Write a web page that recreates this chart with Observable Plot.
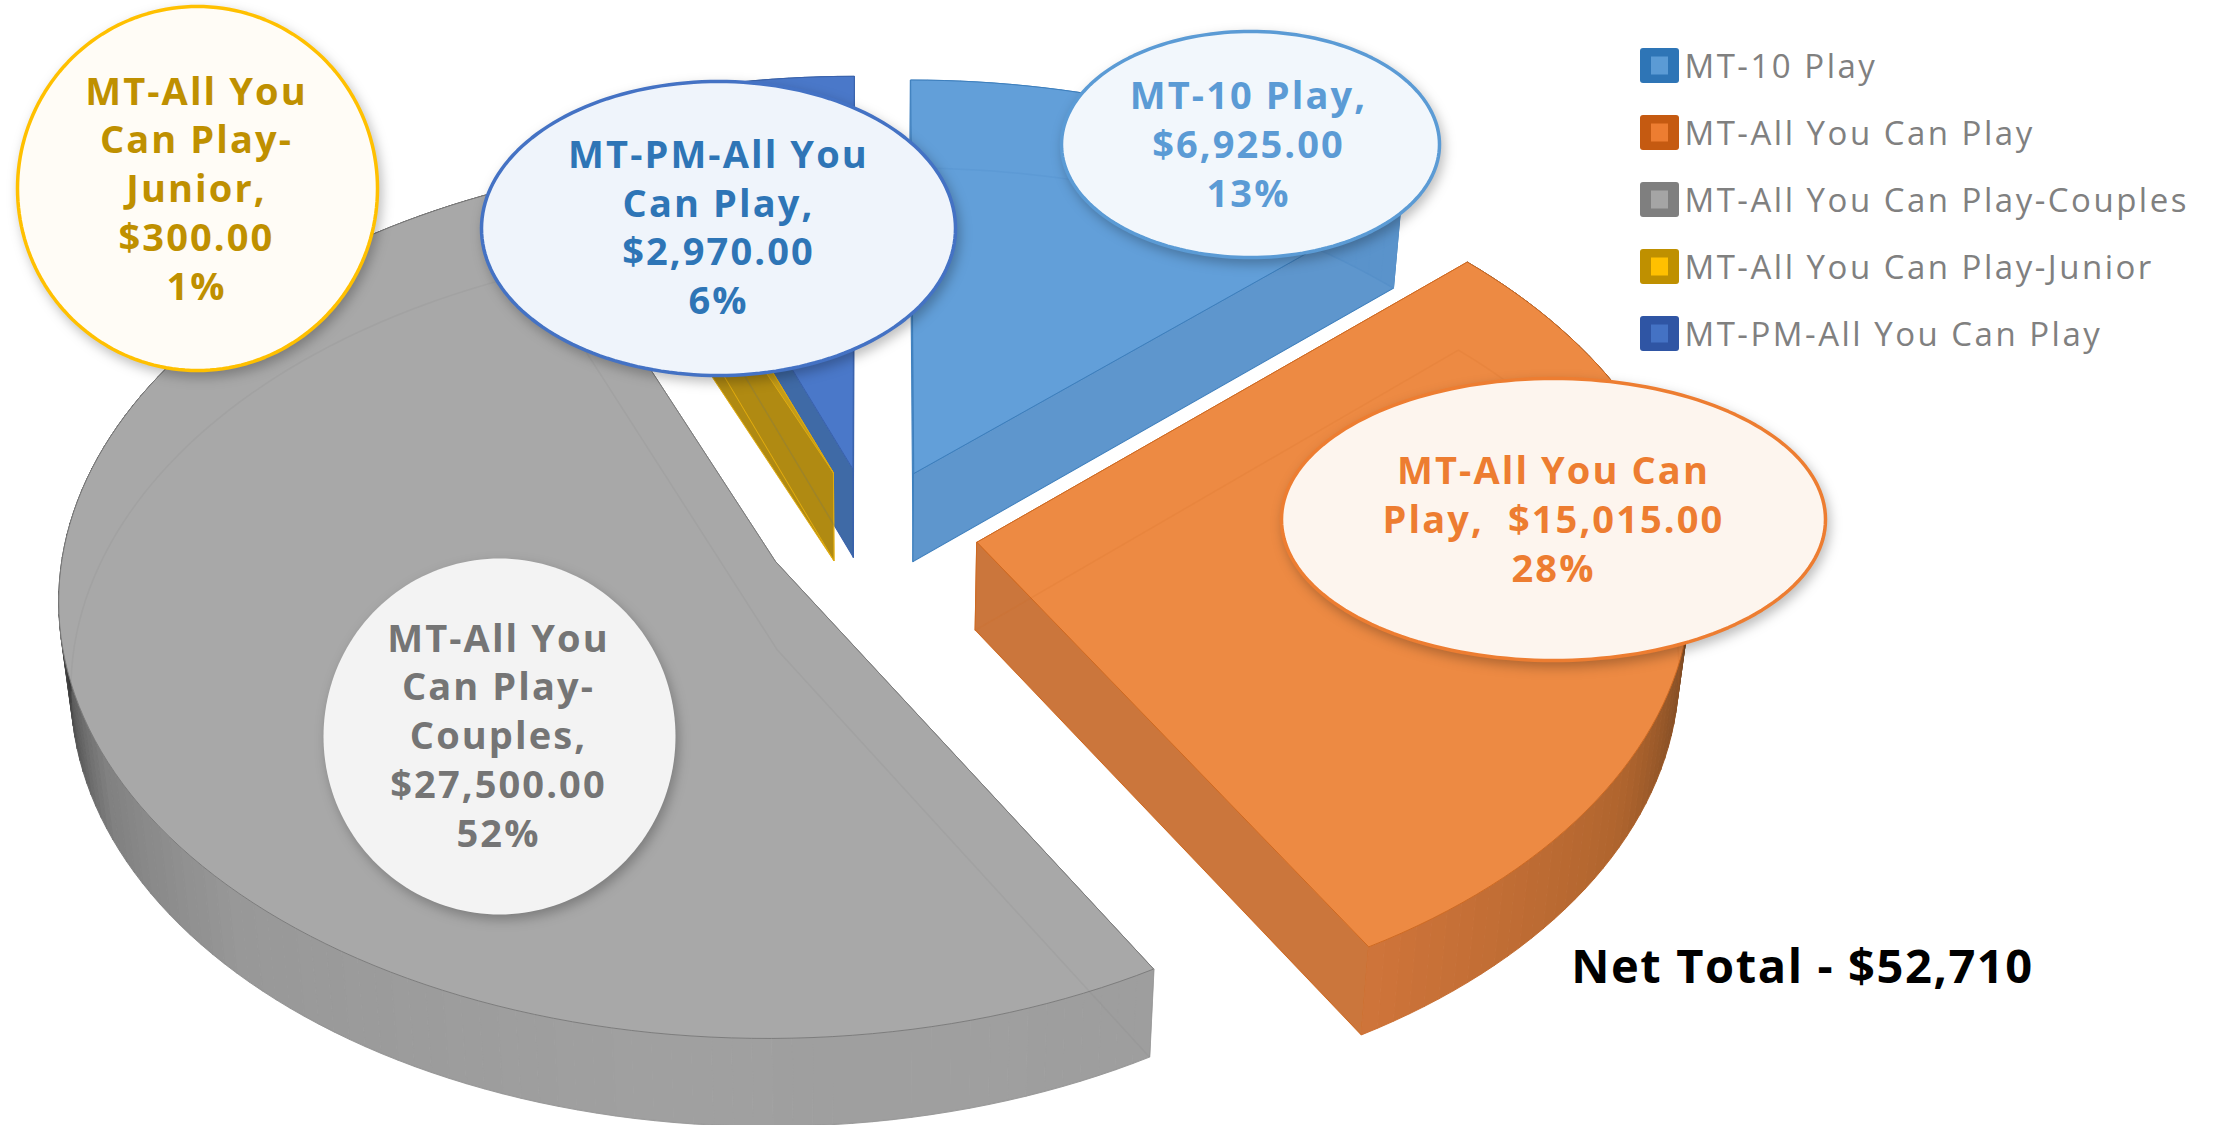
<!DOCTYPE html>
<html>
<head>
<meta charset="utf-8">
<script src="https://cdn.jsdelivr.net/npm/d3@7"></script>
<script src="https://cdn.jsdelivr.net/npm/@observablehq/plot@0.6"></script>
<style>
  html, body { margin: 0; padding: 0; background: #ffffff; }
  svg { display: block; }
  [aria-label="callouts"], [aria-label="callouts"] text { letter-spacing: 2.1px; }
  [aria-label="legend names"], [aria-label="legend names"] text { letter-spacing: 2.5px; }
  [aria-label="net total"], [aria-label="net total"] text { letter-spacing: 1.6px; }
</style>
</head>
<body>
<script>
// Net revenue by membership type
const categories = ["MT-10 Play", "MT-All You Can Play", "MT-All You Can Play-Couples", "MT-All You Can Play-Junior", "MT-PM-All You Can Play"];
const revenue = [6925, 15015, 27500, 300, 2970];
const labelNames = ["MT-10 Play,", "MT-All You Can\nPlay,\u00a0", "MT-All You\nCan Play-\nCouples,", "MT-All You\nCan Play-\nJunior,", "MT-PM-All You\nCan Play,"];
const labelJoin = ["\n", " ", "\n", "\n", "\n"];
const netTotalLabel = "Net Total - $52,710";

const W = 2219, H = 1125;
const total = d3.sum(revenue);
const fmtMoney = d3.format("$,.2f");
const fmtPct = d3.format(".0%");

// Per-slice styling
const topFill = ["#629fd9", "#ed8a43", "#a8a8a8", "#c49c18", "#4a78c9"];
const edgeStroke = ["#3d7fbd", "#cf6a22", "#7d7d7d", "#e0ac10", "#3a62ad"];
const wallFill = ["#5e96cd", "#cb763c", "#9d9d9d", "#b08a12", "#3f6aa6"];
const swatchOuter = ["#2e75b6", "#c55a11", "#7f7f7f", "#bf9000", "#2f55a4"];
const swatchInner = ["#5b9bd5", "#ed7d31", "#a5a5a5", "#ffc000", "#4472c4"];
const labelInk = ["#5b9bd5", "#ed7d31", "#757575", "#bf9000", "#2e75b6"];
const bubbleStroke = ["#5b9bd5", "#ed7d31", null, "#ffc000", "#4472c4"];
const bubbleFill = ["#f2f7fc", "#fdf5ee", "#f3f3f3", "#fffcf6", "#eff4fb"];

// Bubble placement: centre and radii of each callout
const bubbleLayout = [
  {cx: 1250, cy: 144, rx: 189, ry: 113, ty: 142, tx: 1248},
  {cx: 1553, cy: 519, rx: 272, ry: 141, ty: 517, tx: 1553},
  {cx: 499, cy: 736, rx: 176, ry: 178, ty: 733, tx: 498},
  {cx: 197, cy: 188, rx: 180, ry: 182, ty: 186, tx: 196},
  {cx: 718, cy: 228, rx: 237, ry: 147, ty: 225, tx: 718}
];

// Perspective camera for the tilted, exploded pie
const cam = {cx: 871, cy: 532, S: 710, T: 434, p: 0.08, explode: 0.15, depth: 88, converge: 0.985};
const rad = d => d * Math.PI / 180;

function project(theta, mid, r) {
  const x = cam.explode * Math.sin(mid) + r * Math.sin(theta);
  const y = -cam.explode * Math.cos(mid) - r * Math.cos(theta);
  const w = 1 - cam.p * y;
  return [cam.cx + cam.S * x / w, cam.cy + cam.T * y / w];
}
const lower = ([X, Y]) => [cam.cx + (X - cam.cx) * cam.converge, Y + cam.depth];

// Rim shading by angle: the side turned from the light falls to near black
const orangeRim = d3.scaleLinear().domain([75, 100, 120, 150]).range(["#4b2f1a", "#7c4a24", "#b0652e", "#cf743a"]).clamp(true);
const greyRim = d3.scaleLinear().domain([150, 190, 225, 245, 268]).range(["#9e9e9e", "#a0a0a0", "#989898", "#808080", "#2e2e2e"]).clamp(true);
const rimShade = [() => "#5a93cb", orangeRim, greyRim, () => "#b08a12", () => "#3f6aa6"];

// Slice boundaries come straight from the revenue shares
let acc = 0;
const slices = revenue.map((v, i) => {
  const a0 = acc / total * 360;
  acc += v;
  const a1 = acc / total * 360;
  return {i, a0, a1, mid: rad((a0 + a1) / 2)};
});

const faces = [];   // filled polygons, in paint order
const ghosts = [];  // faint hidden outlines seen through the top faces
let fid = 0;
function addFace(pts, fill, stroke) {
  const id = fid++;
  pts.forEach(([x, y]) => faces.push({x, y, id, fill, stroke}));
}

// Back-to-front paint order
[4, 3, 0, 2, 1].forEach(k => {
  const s = slices[k];
  const apex = project(0, s.mid, 0);
  const steps = Math.max(2, Math.ceil((s.a1 - s.a0) / 1.5));
  const rim = d3.range(steps + 1).map(j => s.a0 + (s.a1 - s.a0) * j / steps);
  const rimTop = rim.map(a => project(rad(a), s.mid, 1));
  const rimLow = rimTop.map(lower);
  // radial walls
  [0, steps].forEach(j => {
    addFace([apex, rimTop[j], rimLow[j], lower(apex)], wallFill[k], edgeStroke[k]);
  });
  // outer wall as narrow quads so the shading can vary round the rim
  for (let j = 0; j < steps; j++) {
    const c = rimShade[k]((rim[j] + rim[j + 1]) / 2);
    addFace([rimTop[j], rimTop[j + 1], rimLow[j + 1], rimLow[j]], c, c);
  }
  // top face
  addFace([apex, ...rimTop, apex], topFill[k], edgeStroke[k]);
  // ghost of the bottom outline
  [lower(apex), ...rimLow, lower(apex)].forEach(([x, y]) => ghosts.push({x, y, gid: k, stroke: edgeStroke[k]}));
});

// Callout outlines
const bubbles = bubbleLayout.flatMap((b, i) =>
  d3.range(0, 181).map(j => {
    const t = j / 180 * 2 * Math.PI;
    return {x: b.cx + b.rx * Math.cos(t), y: b.cy + b.ry * Math.sin(t), i,
            fill: bubbleFill[i], stroke: bubbleStroke[i] || "none"};
  })
);

const labels = revenue.map((v, i) => ({
  text: labelNames[i] + labelJoin[i] + fmtMoney(v) + "\n" + fmtPct(v / total),
  x: bubbleLayout[i].tx, y: bubbleLayout[i].ty, ink: labelInk[i]
}));

// Legend rows
const legendRows = categories.map((name, i) => ({
  name,
  yc: 65.5 + i * 67,
  outer: swatchOuter[i],
  inner: swatchInner[i]
}));

const shadow = "drop-shadow(3px 5px 6px rgba(0,0,0,0.26))";

const chart = Plot.plot({
  width: W,
  height: H,
  margin: 0,
  x: {type: "identity", axis: null},
  y: {type: "identity", axis: null},
  color: {type: "identity"},
  style: {background: "#ffffff"},
  marks: [
    Plot.line(faces, {x: "x", y: "y", z: "id", fill: "fill", stroke: "stroke", strokeWidth: 1, curve: "linear-closed"}),
    Plot.line(ghosts, {x: "x", y: "y", z: "gid", stroke: "stroke", strokeOpacity: 0.14, strokeWidth: 1.5}),
    // Bubbles in the order the chart stacks them
    ...[0, 1, 2, 3, 4].map(i =>
      Plot.line(bubbles.filter(d => d.i === i), {
        x: "x", y: "y", fill: "fill", stroke: "stroke",
        strokeWidth: 3.5, curve: "linear-closed", imageFilter: shadow
      })
    ),
    Plot.text(labels, {
      ariaLabel: () => "callouts",
      x: "x", y: "y", text: "text", fill: "ink",
      fontFamily: "Open Sans", fontWeight: 700, fontSize: 38,
      lineHeight: 1.282, lineAnchor: "middle", textAnchor: "middle"
    }),
    // Legend
    Plot.rect(legendRows, {
      x1: () => 1640, x2: () => 1679,
      y1: d => d.yc - 17.5, y2: d => d.yc + 17.5,
      fill: "outer", rx: 3
    }),
    Plot.rect(legendRows, {
      x1: () => 1651, x2: () => 1668,
      y1: d => d.yc - 9, y2: d => d.yc + 9,
      fill: "inner"
    }),
    Plot.text(legendRows, {
      ariaLabel: () => "legend names",
      x: () => 1684, y: d => d.yc + 1, text: "name", fill: "#808080",
      fontFamily: "Open Sans", fontSize: 33, textAnchor: "start"
    }),
    Plot.text([netTotalLabel], {
      ariaLabel: () => "net total",
      x: () => 1802, y: () => 967, text: d => d, fill: "#000000",
      fontFamily: "Open Sans", fontWeight: 700, fontSize: 47, textAnchor: "middle"
    })
  ]
});
document.body.appendChild(chart);
</script>
</body>
</html>
